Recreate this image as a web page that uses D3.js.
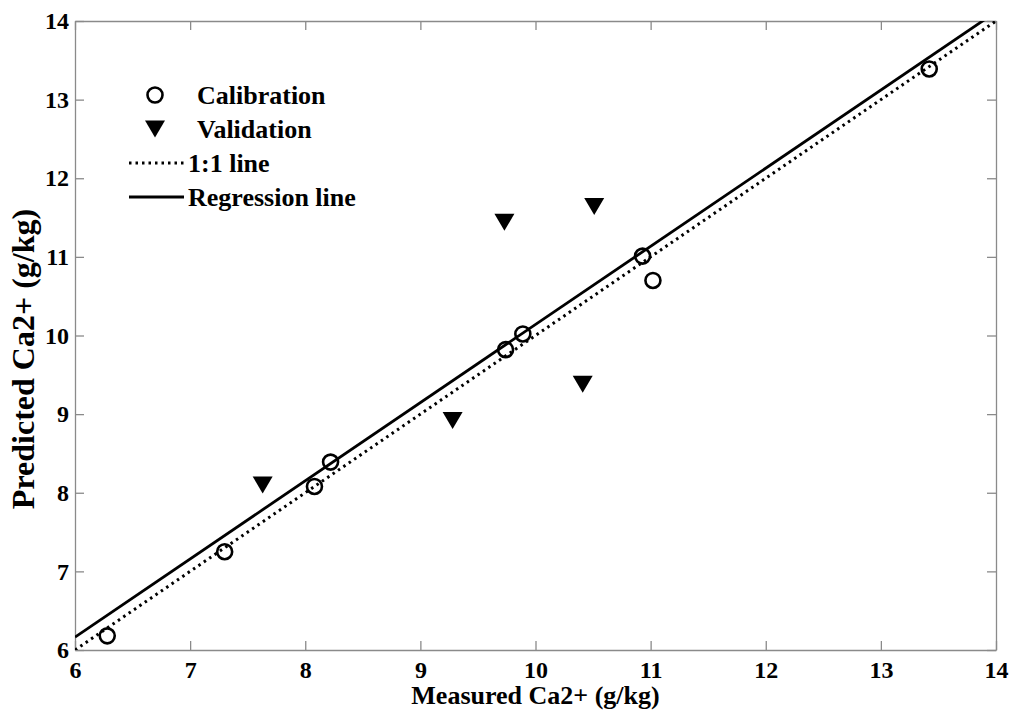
<!doctype html>
<html>
<head>
<meta charset="utf-8">
<script src="https://d3js.org/d3.v7.min.js"></script>
<style>
  body { margin: 0; background: #fff; }
</style>
</head>
<body>
<script>
// calibration set (measured, predicted)
var calMeasured  = [6.28, 7.30, 8.08, 8.22, 9.74, 9.89, 10.93, 11.02, 13.42];
var calPredicted = [6.18, 7.25, 8.08, 8.39, 9.82, 10.02, 11.01, 10.70, 13.39];
// validation set
var valMeasured  = [7.63, 9.28, 9.73, 10.41, 10.51];
var valPredicted = [8.10, 8.92, 11.44, 9.38, 11.64];
// regression fit: predicted = slope * measured + intercept
var regSlope = 0.994, regIntercept = 0.2;
var ticks = [6, 7, 8, 9, 10, 11, 12, 13, 14];
var legendLabels = ["Calibration", "Validation", "1:1 line", "Regression line"];

var W = 1011, H = 711;
var margin = {left: 75, right: 15, top: 21, bottom: 61};
var FONT = "'Liberation Serif', 'Times New Roman', 'DejaVu Serif', serif";

var svg = d3.select("body").append("svg")
    .attr("width", W)
    .attr("height", H);

var x = d3.scaleLinear().domain([6, 14]).range([margin.left, W - margin.right]);
var y = d3.scaleLinear().domain([6, 14]).range([H - margin.bottom, margin.top]);

var axisColor = "#8a8a8a";
var tickLen = 9;

// axes box with inward ticks on all four sides
function styleAxis(g) {
    g.attr("font-family", null).attr("font-size", null);
    g.select(".domain").attr("stroke", axisColor).attr("stroke-width", 1.3);
    g.selectAll(".tick line").attr("stroke", axisColor).attr("stroke-width", 1.3);
    g.selectAll(".tick text").style("font-size", "24px");
}

svg.append("g")
    .attr("transform", "translate(0," + y(6) + ")")
    .call(d3.axisBottom(x).tickValues(ticks).tickFormat(d3.format("d")).tickSizeInner(-tickLen).tickSizeOuter(0).tickPadding(11))
    .call(styleAxis);
svg.append("g")
    .attr("transform", "translate(0," + y(14) + ")")
    .call(d3.axisTop(x).tickValues(ticks).tickFormat("").tickSizeInner(-tickLen).tickSizeOuter(0))
    .call(styleAxis);
svg.append("g")
    .attr("transform", "translate(" + x(6) + ",0)")
    .call(d3.axisLeft(y).tickValues(ticks).tickFormat(d3.format("d")).tickSizeInner(-tickLen).tickSizeOuter(0).tickPadding(6))
    .call(styleAxis);
svg.append("g")
    .attr("transform", "translate(" + x(14) + ",0)")
    .call(d3.axisRight(y).tickValues(ticks).tickFormat("").tickSizeInner(-tickLen).tickSizeOuter(0))
    .call(styleAxis);

// clip for lines
svg.append("clipPath").attr("id", "plotclip")
  .append("rect")
    .attr("x", x(6)).attr("y", y(14))
    .attr("width", x(14) - x(6)).attr("height", y(6) - y(14));

var plot = svg.append("g").attr("clip-path", "url(#plotclip)");

// 1:1 line
plot.append("line")
    .attr("x1", x(6)).attr("y1", y(6))
    .attr("x2", x(14)).attr("y2", y(14))
    .attr("stroke", "#000")
    .attr("stroke-width", 3)
    .attr("stroke-dasharray", "2.5,4");

// regression line
plot.append("line")
    .attr("x1", x(6)).attr("y1", y(regSlope * 6 + regIntercept))
    .attr("x2", x(14)).attr("y2", y(regSlope * 14 + regIntercept))
    .attr("stroke", "#000")
    .attr("stroke-width", 2.8);

// calibration circles
svg.selectAll(".cal")
    .data(calMeasured)
    .enter().append("circle")
    .attr("class", "cal")
    .attr("cx", function(d) { return x(d); })
    .attr("cy", function(d, i) { return y(calPredicted[i]); })
    .attr("r", 7.5)
    .attr("fill", "none")
    .attr("stroke", "#000")
    .attr("stroke-width", 2.6);

// validation triangles (pointing down)
function triPath(cx, cy) {
    var hw = 10, hh = 8.5;
    return "M" + (cx - hw) + "," + (cy - hh) + "L" + (cx + hw) + "," + (cy - hh) + "L" + cx + "," + (cy + hh) + "Z";
}
svg.selectAll(".val")
    .data(valMeasured)
    .enter().append("path")
    .attr("class", "val")
    .attr("d", function(d, i) { return triPath(x(d), y(valPredicted[i])); })
    .attr("fill", "#000");

// axis titles
svg.append("text")
    .attr("x", (x(6) + x(14)) / 2)
    .attr("y", 704)
    .attr("text-anchor", "middle")
    .style("font-size", "26px")
    .text("Measured Ca2+ (g/kg)");

svg.append("text")
    .attr("transform", "translate(34,359) rotate(-90)")
    .attr("text-anchor", "middle")
    .style("font-size", "32px")
    .text("Predicted Ca2+ (g/kg)");

// legend
var legY = [95, 129, 163, 197];
var legX = 155;
var leg = svg.append("g");
leg.append("circle")
    .attr("cx", legX).attr("cy", legY[0]).attr("r", 7.5)
    .attr("fill", "none").attr("stroke", "#000").attr("stroke-width", 2.6);
leg.append("path")
    .attr("d", triPath(legX, legY[1]))
    .attr("fill", "#000");
leg.append("line")
    .attr("x1", 129).attr("x2", 184).attr("y1", legY[2]).attr("y2", legY[2])
    .attr("stroke", "#000").attr("stroke-width", 3).attr("stroke-dasharray", "2.5,4");
leg.append("line")
    .attr("x1", 129).attr("x2", 184).attr("y1", legY[3]).attr("y2", legY[3])
    .attr("stroke", "#000").attr("stroke-width", 2.8);
leg.selectAll("text")
    .data(legendLabels)
    .enter().append("text")
    .attr("x", function(d, i) { return i < 2 ? 197 : 188; })
    .attr("y", function(d, i) { return legY[i]; })
    .attr("dy", "0.35em")
    .style("font-size", "26px")
    .text(function(d) { return d; });

svg.selectAll("text")
    .style("font-family", FONT)
    .style("font-weight", "bold")
    .attr("fill", "#000");
</script>
</body>
</html>
